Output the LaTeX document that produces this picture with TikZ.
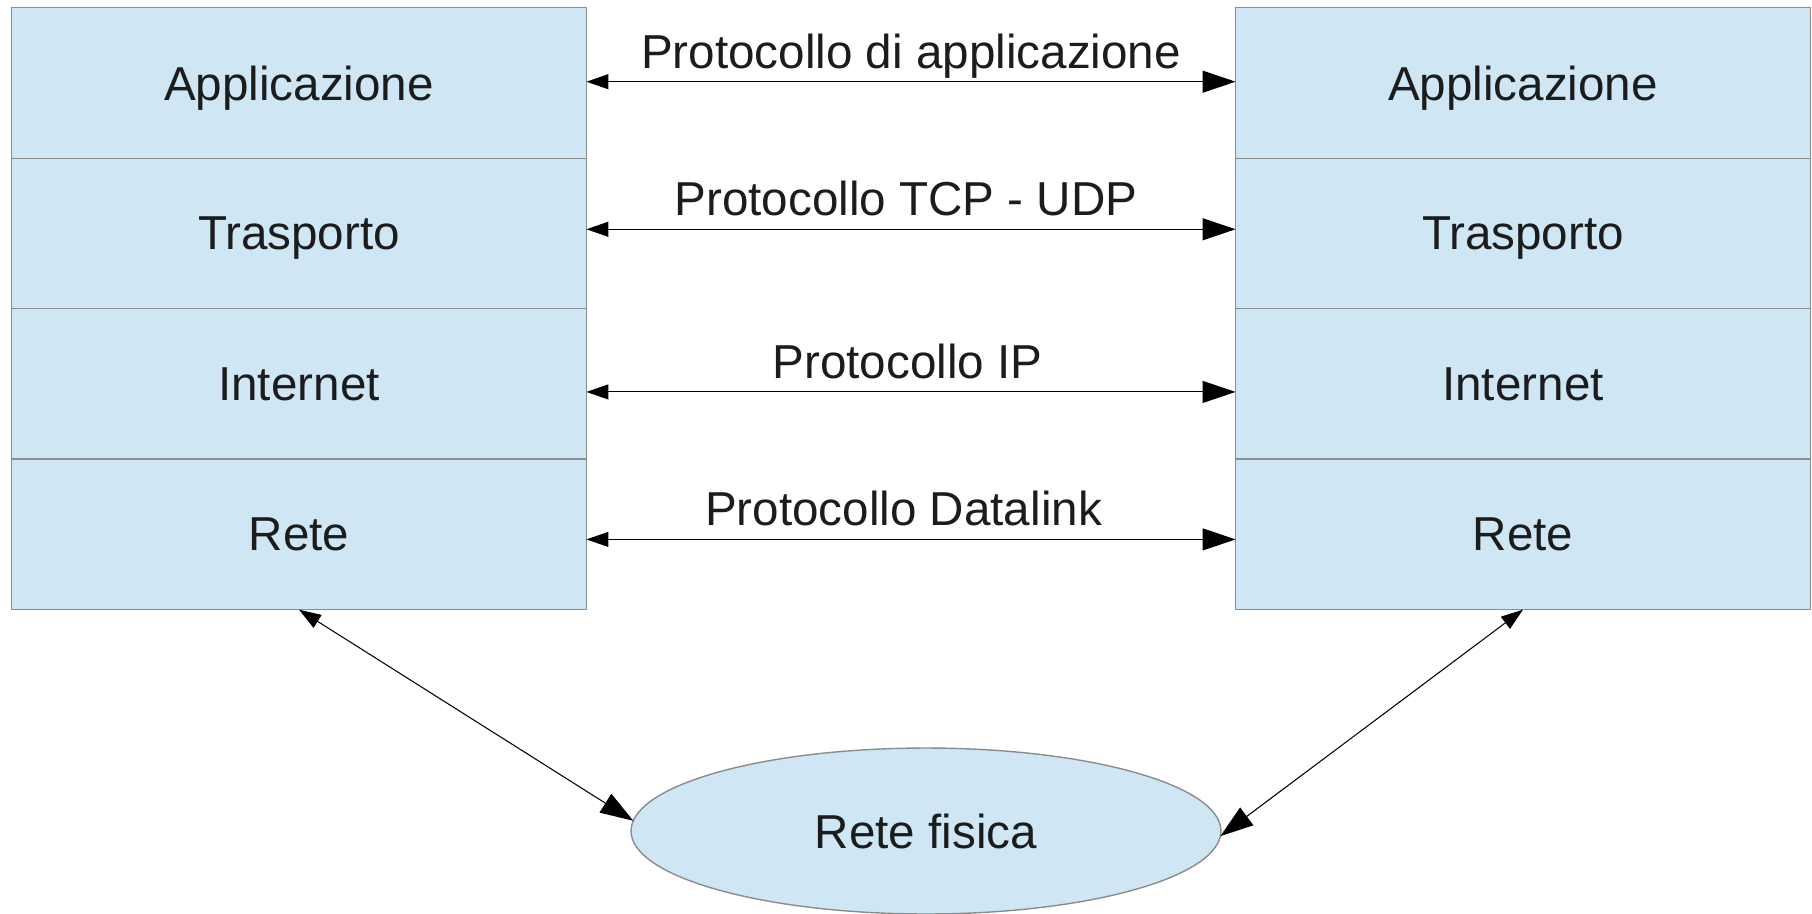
\documentclass[tikz,border=0pt]{standalone}
\usepackage{fontspec}
\setmainfont{Liberation Sans}
\usetikzlibrary{positioning,arrows.meta,shapes.geometric}
\definecolor{layerfill}{HTML}{CFE7F5}
\definecolor{layerline}{HTML}{8C8C8C}
\definecolor{ink}{HTML}{1C1C1C}

\tikzset{
  layer/.style={draw=layerline, fill=layerfill, line width=0.8pt,
    minimum width=11.5cm, minimum height=3.01cm, inner sep=0pt, outer sep=0pt,
    text depth=0pt, text=ink, font=\fontsize{27.1}{32}\selectfont},
  proto/.style={{Triangle[length=0.44cm,width=0.30cm]}-{Triangle[length=0.66cm,width=0.44cm]},
    line width=0.6pt},
  protolabel/.style={anchor=base, yshift=0.274cm, text=ink,
    font=\fontsize{27.1}{32}\selectfont}
}

\begin{document}
\begin{tikzpicture}[x=0.02cm, y=-0.02cm]
\useasboundingbox (0,0) rectangle (1812,913);

% left stack
\node[layer] (lApp) at (299,83) {Applicazione};
\node[layer, below=0pt of lApp] (lTra) {Trasporto};
\node[layer, below=0pt of lTra] (lInt) {Internet};
\node[layer, below=0pt of lInt] (lRete) {Rete};

% right stack
\node[layer] (rApp) at (1523,83) {Applicazione};
\node[layer, below=0pt of rApp] (rTra) {Trasporto};
\node[layer, below=0pt of rTra] (rInt) {Internet};
\node[layer, below=0pt of rInt] (rRete) {Rete};

% physical network
\node[layer, ellipse, minimum width=11.8cm, minimum height=3.32cm] (fisica) at (926,831) {Rete fisica};

% peer protocols
\draw[proto] ([yshift=0.026cm]lApp.east) -- node[protolabel] {Protocollo di applicazione} ([yshift=0.026cm]rApp.west);
\draw[proto] ([yshift=0.084cm]lTra.east) -- node[protolabel, xshift=-0.1cm] {Protocollo TCP - UDP} ([yshift=0.084cm]rTra.west);
\draw[proto] ([yshift=-0.16cm]lInt.east) -- node[protolabel, xshift=-0.07cm] {Protocollo IP} ([yshift=-0.16cm]rInt.west);
\draw[proto] ([yshift=-0.1cm]lRete.east) -- node[protolabel, xshift=-0.15cm] {Protocollo Datalink} ([yshift=-0.1cm]rRete.west);

% links to the wire
\draw[proto] (lRete.south) -- (fisica.178);
\draw[proto] (rRete.south) -- (fisica.-1.5);
\end{tikzpicture}
\end{document}
